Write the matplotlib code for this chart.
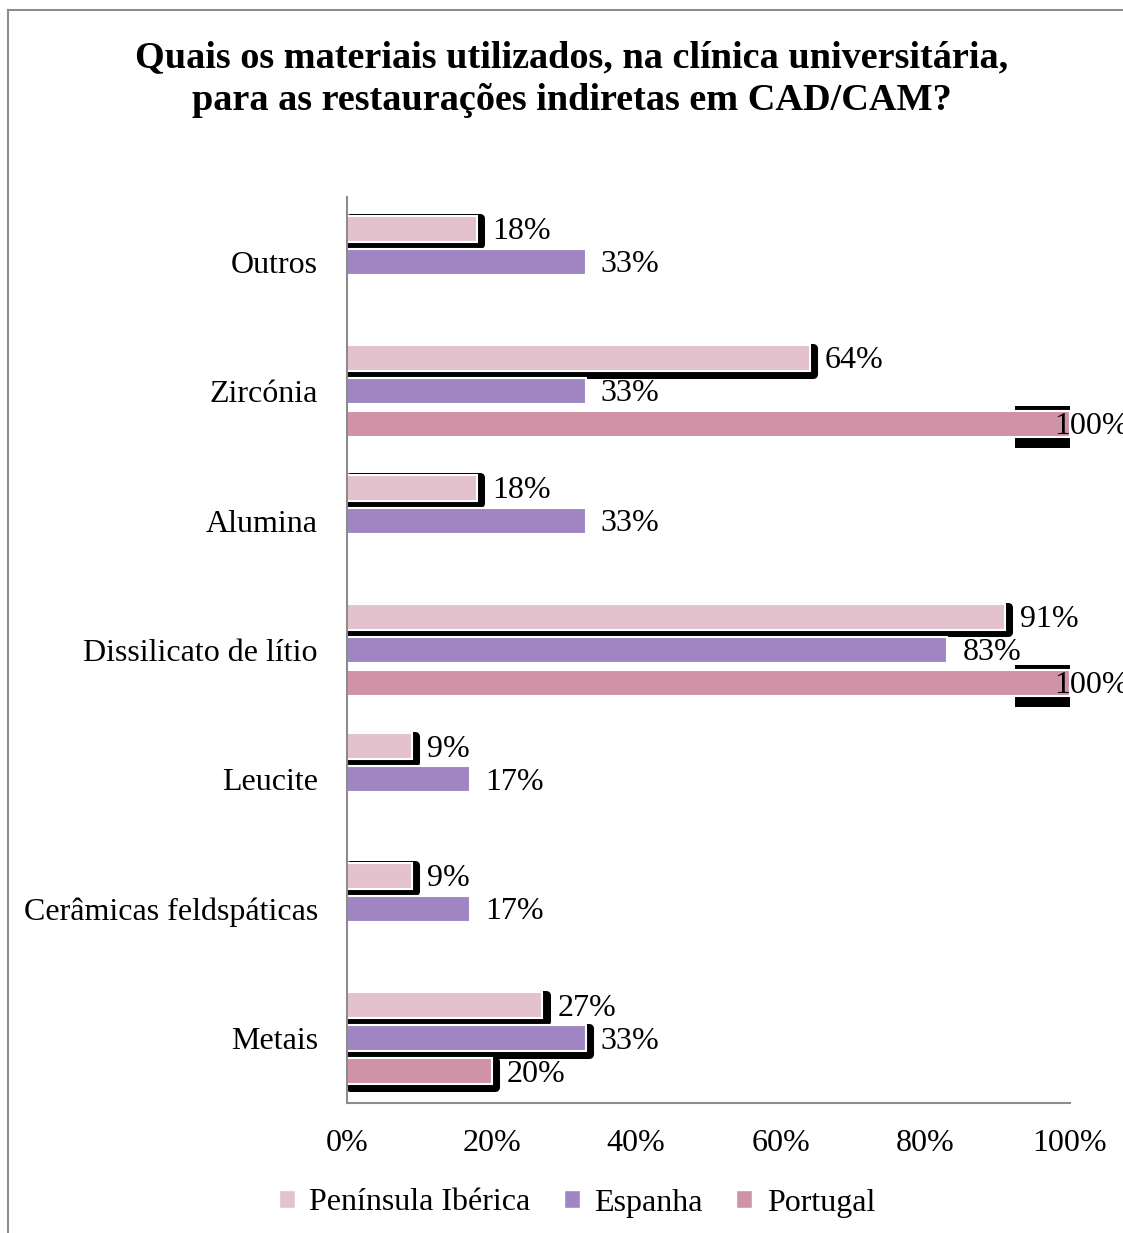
import numpy as np
import matplotlib
matplotlib.use("Agg")
import matplotlib.pyplot as plt
import matplotlib.patheffects as pe
from matplotlib.patches import Patch
from matplotlib.lines import Line2D

plt.rcParams['font.family'] = ['Liberation Serif', 'DejaVu Serif']

categories = ["Outros", "Zircónia", "Alumina", "Dissilicato de lítio",
              "Leucite", "Cerâmicas feldspáticas", "Metais"]
series_names = ["Península Ibérica", "Espanha", "Portugal"]
peninsula = [18, 64, 18, 91, 9, 9, 27]
espanha = [33, 33, 33, 83, 17, 17, 33]
portugal = [np.nan, 100, np.nan, 100, np.nan, np.nan, 20]
x_ticks = [0, 20, 40, 60, 80, 100]
x_tick_labels = ["0%", "20%", "40%", "60%", "80%", "100%"]

colors = ["#E3C2CE", "#9F86C2", "#D092A6"]
# style: which bars carry the black shadow artefact
shadow_flags = [
    [True] * 7,
    [False, False, False, False, False, False, True],
    [False, False, False, False, False, False, True],
]

FS = 23

fig = plt.figure(figsize=(11.23, 12.33), dpi=100)
ax = fig.add_axes([347/1123, 1 - 1103/1233, (1070-347)/1123, (1103-197)/1233])

n = len(categories)
y = np.arange(n)
offs = [-0.255, 0.0, 0.255]
h = 0.2
data = [peninsula, espanha, portugal]

shadow_fx = [pe.Stroke(linewidth=6.5, foreground='black', offset=(2.4, -1.8),
                       joinstyle='round'), pe.Normal()]

for si, (vals, col, off) in enumerate(zip(data, colors, offs)):
    vals = np.array(vals, dtype=float)
    # partial shadow chunk behind full-length bars
    for i, v in enumerate(vals):
        if not np.isnan(v) and v >= 100:
            ax.barh(y[i] + off + 0.02, 7.9, left=v - 7.6, height=0.325,
                    color='black', zorder=1)
    bars = ax.barh(y + off, np.nan_to_num(vals), height=h, color=col,
                   edgecolor='white', linewidth=1.5, zorder=2)
    for i, (b, v) in enumerate(zip(bars, vals)):
        if np.isnan(v):
            b.set_visible(False)
            continue
        if shadow_flags[si][i]:
            b.set_path_effects(shadow_fx)
        dx = -11 if v >= 100 else 11
        ax.annotate(f"{v:.0f}%", (v, y[i] + off), xytext=(dx, -2),
                    textcoords='offset points', va='center', ha='left',
                    fontsize=FS, zorder=3, annotation_clip=False)

ax.set_xlim(0, 100)
ax.set_ylim(n - 0.5, -0.5)
ax.set_yticks(y)
ax.set_yticklabels(categories, fontsize=FS)
ax.set_xticks(x_ticks)
ax.set_xticklabels(x_tick_labels, fontsize=FS)
ax.tick_params(axis='y', length=0, pad=21)
ax.tick_params(axis='x', length=0, pad=19)
for s in ['top', 'right']:
    ax.spines[s].set_visible(False)
for s in ['left', 'bottom']:
    ax.spines[s].set_color('#8c8c8c')
    ax.spines[s].set_linewidth(1.5)

fig.text(572/1123, 1 - 79/1233,
         "Quais os materiais utilizados, na clínica universitária,\npara as restaurações indiretas em CAD/CAM?",
         ha='center', va='center', fontsize=27.5, fontweight='bold', linespacing=1.28)

handles = [Patch(facecolor=c, edgecolor='white') for c in colors]
fig.legend(handles, series_names, loc='center', ncol=3,
           bbox_to_anchor=(577/1123, 1 - 1203/1233), frameon=False,
           fontsize=FS, handlelength=0.5, handleheight=0.5,
           handletextpad=0.45, columnspacing=1.05)

# outer chart border (left and top visible)
fig.add_artist(Line2D([8/1123, 8/1123], [0, 1 - 10/1233], color='#8c8c8c',
                      linewidth=1.5, transform=fig.transFigure))
fig.add_artist(Line2D([8/1123, 1], [1 - 10/1233, 1 - 10/1233], color='#8c8c8c',
                      linewidth=1.5, transform=fig.transFigure))

fig.savefig("out.png", dpi=100)
